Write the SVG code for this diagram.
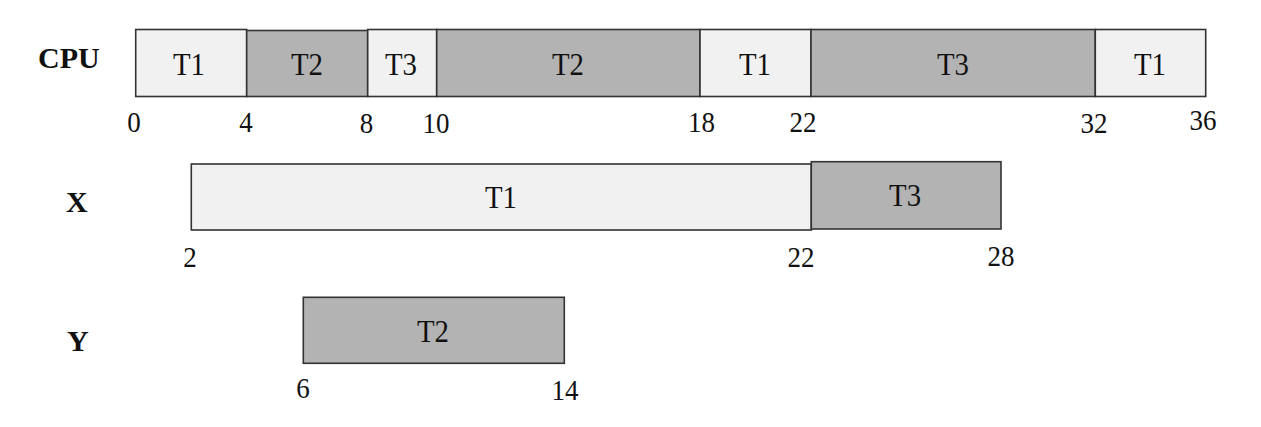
<svg xmlns="http://www.w3.org/2000/svg" width="1261" height="427" viewBox="0 0 1261 427">
<style>
.lt{fill:#f1f1f1;stroke:#333;stroke-width:1.6}
.dk{fill:#b3b3b3;stroke:#333;stroke-width:1.6}
text{font-family:"Liberation Serif","Times New Roman",serif;fill:#111}
.lb{font-size:32px;text-anchor:middle}
.nm{font-size:30px;text-anchor:middle}
.rw{font-size:30px;font-weight:bold}
</style>
<rect width="1261" height="427" fill="#fff"/>
<g id="row-labels">
<text class="rw" x="38" y="68">CPU</text>
<text class="rw" x="66" y="212">X</text>
<text class="rw" x="67" y="351">Y</text>
</g>
<g id="cpu">
<g id="cpu-t1a"><rect class="lt" x="135.7" y="29.5" width="111" height="67"/></g>
<g id="cpu-t2a"><rect class="dk" x="246.7" y="30.5" width="121" height="66"/></g>
<g id="cpu-t3a"><rect class="lt" x="367.7" y="29.5" width="69" height="67"/></g>
<g id="cpu-t2b"><rect class="dk" x="436.7" y="29.5" width="263.3" height="67"/></g>
<g id="cpu-t1b"><rect class="lt" x="700" y="29.5" width="111" height="67"/></g>
<g id="cpu-t3b"><rect class="dk" x="811" y="29.5" width="284.3" height="67"/></g>
<g id="cpu-t1c"><rect class="lt" x="1095.3" y="29.5" width="110.4" height="67"/></g>
</g>
<g id="x">
<g id="x-t1"><rect class="lt" x="191.3" y="164" width="620" height="66"/></g>
<g id="x-t3"><rect class="dk" x="811.3" y="161.7" width="189.7" height="67.3"/></g>
</g>
<g id="y">
<g id="y-t2"><rect class="dk" x="303.3" y="297.3" width="261" height="66"/></g>
</g>
<g id="connectors"></g>
<g id="texts" transform="scale(0.9 1)">
<text class="lb" x="210" y="75">T1</text>
<text class="lb" x="341.1" y="75">T2</text>
<text class="lb" x="445.6" y="75">T3</text>
<text class="lb" x="631.1" y="75">T2</text>
<text class="lb" x="838.9" y="75">T1</text>
<text class="lb" x="1058.9" y="75">T3</text>
<text class="lb" x="1277.8" y="75">T1</text>
<text class="nm" x="148.9" y="132">0</text>
<text class="nm" x="273.3" y="132">4</text>
<text class="nm" x="407.2" y="133">8</text>
<text class="nm" x="484.4" y="133">10</text>
<text class="nm" x="779.4" y="132">18</text>
<text class="nm" x="892.2" y="132">22</text>
<text class="nm" x="1215.6" y="133">32</text>
<text class="nm" x="1336.7" y="130">36</text>
<text class="lb" x="556.7" y="208">T1</text>
<text class="lb" x="1005.6" y="206">T3</text>
<text class="nm" x="211.1" y="267">2</text>
<text class="nm" x="890" y="267">22</text>
<text class="nm" x="1112.2" y="266">28</text>
<text class="lb" x="481.1" y="342">T2</text>
<text class="nm" x="336.7" y="398">6</text>
<text class="nm" x="627.8" y="400">14</text>
</g>
</svg>
